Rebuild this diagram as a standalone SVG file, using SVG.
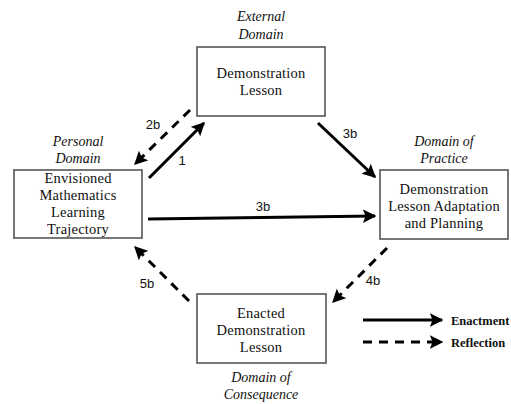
<svg xmlns="http://www.w3.org/2000/svg" width="511" height="404" viewBox="0 0 511 404">
  <style>
    .box { fill: #fff; stroke: #555; stroke-width: 1.6; }
    .txt { font-family: "Liberation Serif", "Times New Roman", serif; font-size: 14.5px; letter-spacing: 0.2px; fill: #111; text-anchor: middle; }
    .dom { font-family: "Liberation Serif", "Times New Roman", serif; font-size: 14px; font-style: italic; fill: #111; text-anchor: middle; }
    .lbl { font-family: "Liberation Sans", Arial, sans-serif; font-size: 13px; fill: #111; text-anchor: middle; }
    .leg { font-family: "Liberation Serif", "Times New Roman", serif; font-size: 12.5px; font-weight: bold; fill: #111; }
    .solid { stroke: #000; stroke-width: 3; fill: none; }
    .dash { stroke: #000; stroke-width: 3; fill: none; stroke-dasharray: 9 7; }
  </style>
  <defs>
    <marker id="head" viewBox="0 0 10 10" refX="9" refY="5" markerWidth="4.5" markerHeight="4.5" orient="auto" markerUnits="strokeWidth">
      <path d="M0,0 L10,5 L0,10 L2,5 Z" fill="#000"/>
    </marker>
  </defs>

  <rect width="511" height="404" fill="#fff"/>

  <!-- External domain node -->
  <g id="node-demonstration">
    <text class="dom" x="261" y="21">External</text>
    <text class="dom" x="261" y="39">Domain</text>
    <rect class="box" x="197" y="47" width="128" height="69"/>
    <text class="txt" x="261" y="78">Demonstration</text>
    <text class="txt" x="261" y="95">Lesson</text>
  </g>

  <!-- Personal domain node -->
  <g id="node-trajectory">
    <text class="dom" x="78" y="146">Personal</text>
    <text class="dom" x="78" y="163">Domain</text>
    <rect class="box" x="14" y="170" width="128" height="68"/>
    <text class="txt" x="78" y="183">Envisioned</text>
    <text class="txt" x="78" y="200">Mathematics</text>
    <text class="txt" x="78" y="217">Learning</text>
    <text class="txt" x="78" y="234">Trajectory</text>
  </g>

  <!-- Domain of practice node -->
  <g id="node-adaptation">
    <text class="dom" x="444" y="146">Domain of</text>
    <text class="dom" x="444" y="163">Practice</text>
    <rect class="box" x="380" y="170" width="128" height="69"/>
    <text class="txt" x="444" y="194">Demonstration</text>
    <text class="txt" x="444" y="211">Lesson Adaptation</text>
    <text class="txt" x="444" y="228">and Planning</text>
  </g>

  <!-- Domain of consequence node -->
  <g id="node-enacted">
    <rect class="box" x="197" y="294" width="129" height="69"/>
    <text class="txt" x="261" y="318">Enacted</text>
    <text class="txt" x="261" y="335">Demonstration</text>
    <text class="txt" x="261" y="352">Lesson</text>
    <text class="dom" x="261" y="382">Domain of</text>
    <text class="dom" x="261" y="399">Consequence</text>
  </g>

  <!-- Connectors -->
  <g id="connectors">
    <line class="solid" x1="149" y1="178" x2="204" y2="123" marker-end="url(#head)"/>
    <line class="dash" x1="190" y1="110" x2="135" y2="164" marker-end="url(#head)"/>
    <line class="solid" x1="318" y1="123" x2="375" y2="177" marker-end="url(#head)"/>
    <line class="solid" x1="148" y1="219" x2="375" y2="216" marker-end="url(#head)"/>
    <line class="dash" x1="387" y1="248" x2="333" y2="302" marker-end="url(#head)"/>
    <line class="dash" x1="189" y1="301" x2="135" y2="247" marker-end="url(#head)"/>

    <text class="lbl" x="153" y="129">2b</text>
    <text class="lbl" x="182" y="165">1</text>
    <text class="lbl" x="350" y="138">3b</text>
    <text class="lbl" x="263" y="211">3b</text>
    <text class="lbl" x="373" y="285">4b</text>
    <text class="lbl" x="147" y="288">5b</text>
  </g>

  <!-- Legend -->
  <g id="legend">
    <line class="solid" x1="363" y1="320" x2="442" y2="320" marker-end="url(#head)"/>
    <line class="dash" x1="363" y1="342" x2="442" y2="342" marker-end="url(#head)"/>
    <text class="leg" x="451" y="325">Enactment</text>
    <text class="leg" x="451" y="347">Reflection</text>
  </g>
</svg>
